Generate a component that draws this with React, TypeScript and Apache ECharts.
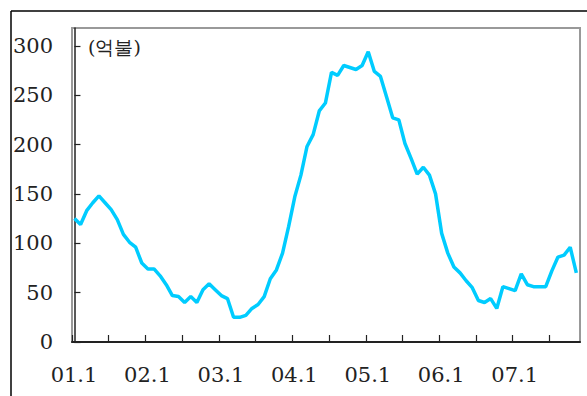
import React, { useEffect, useRef } from "react";
import * as echarts from "echarts";

// Monthly categories 01.1 ... 07.12
const years = ["01", "02", "03", "04", "05", "06", "07"];
const months = [1, 2, 3, 4, 5, 6, 7, 8, 9, 10, 11, 12];
const categories: string[] = [];
years.forEach((y) => months.forEach((m) => categories.push(`${y}.${m}`)));

// Values (억불), monthly from 01.1
const values = [
  125, 119, 133, 141, 148, 141, 134, 124, 109, 101, 96, 80,
  74, 74, 67, 58, 47, 46, 40, 46, 40, 53, 59, 53,
  47, 44, 25, 25, 27, 34, 38, 46, 64, 73, 90, 117,
  147, 169, 198, 210, 234, 242, 273, 270, 280, 278, 276, 280,
  294, 274, 269, 248, 227, 225, 201, 186, 170, 177, 169, 150,
  110, 90, 76, 70, 62, 55, 42, 40, 44, 34, 56, 54,
  52, 69, 58, 56, 56, 56, 72, 86, 88, 96, 70,
];

const yTicks = [0, 50, 100, 150, 200, 250, 300];
const unitLabel = "(억불)";

export default function App() {
  const ref = useRef<HTMLDivElement>(null);
  useEffect(() => {
    if (!ref.current) return;
    const chart = echarts.init(ref.current, undefined, { renderer: "svg" });
    const font = "DejaVu Serif";
    chart.setOption({
      animation: false,
      backgroundColor: "#fff",
      grid: {
        left: 72,
        top: 28,
        right: 7,
        bottom: 54,
        show: true,
        borderColor: "#999",
        borderWidth: 2,
      },
      xAxis: [
        {
          type: "category",
          data: categories,
          boundaryGap: false,
          axisLine: { lineStyle: { color: "#222", width: 2 } },
          axisTick: { inside: true, length: 7, interval: 5, lineStyle: { color: "#222", width: 1.2 } },
          axisLabel: {
            interval: 11,
            margin: 22,
            color: "#222",
            fontFamily: font,
            fontSize: 21,
            padding: [0, 0, 0, 4],
          },
          splitLine: { show: false },
        },
        {
          type: "value",
          min: -0.4,
          max: 82.6,
          show: false,
        },
      ],
      yAxis: {
        type: "value",
        min: 0,
        max: 318,
        interval: 50,
        axisLine: { show: true, lineStyle: { color: "#222", width: 1.5 } },
        axisTick: { inside: true, length: 6, lineStyle: { color: "#222", width: 1.2 } },
        axisLabel: {
          margin: 19,
          color: "#222",
          fontFamily: font,
          fontSize: 21,
          showMaxLabel: false,
          formatter: (v: number) => (yTicks.includes(v) ? String(v) : ""),
        },
        splitLine: { show: false },
      },
      graphic: [
        {
          type: "line",
          shape: { x1: 11, y1: 11, x2: 587, y2: 11 },
          style: { stroke: "#000", lineWidth: 1.5 },
        },
        {
          type: "line",
          shape: { x1: 11, y1: 11, x2: 11, y2: 396 },
          style: { stroke: "#000", lineWidth: 1.5 },
        },
        {
          type: "text",
          left: 88,
          top: 37,
          style: {
            text: unitLabel,
            fill: "#222",
            fontFamily: font,
            fontSize: 19,
          },
        },
      ],
      series: [
        {
          type: "line",
          xAxisIndex: 1,
          data: values.map((v, i) => [i, v]),
          showSymbol: false,
          lineStyle: { color: "#00CCFF", width: 3.5 },
        },
      ],
    });
    return () => chart.dispose();
  }, []);
  return (
    <div
      ref={ref}
      style={{ position: "fixed", left: 0, top: 0, width: 587, height: 396 }}
    />
  );
}
